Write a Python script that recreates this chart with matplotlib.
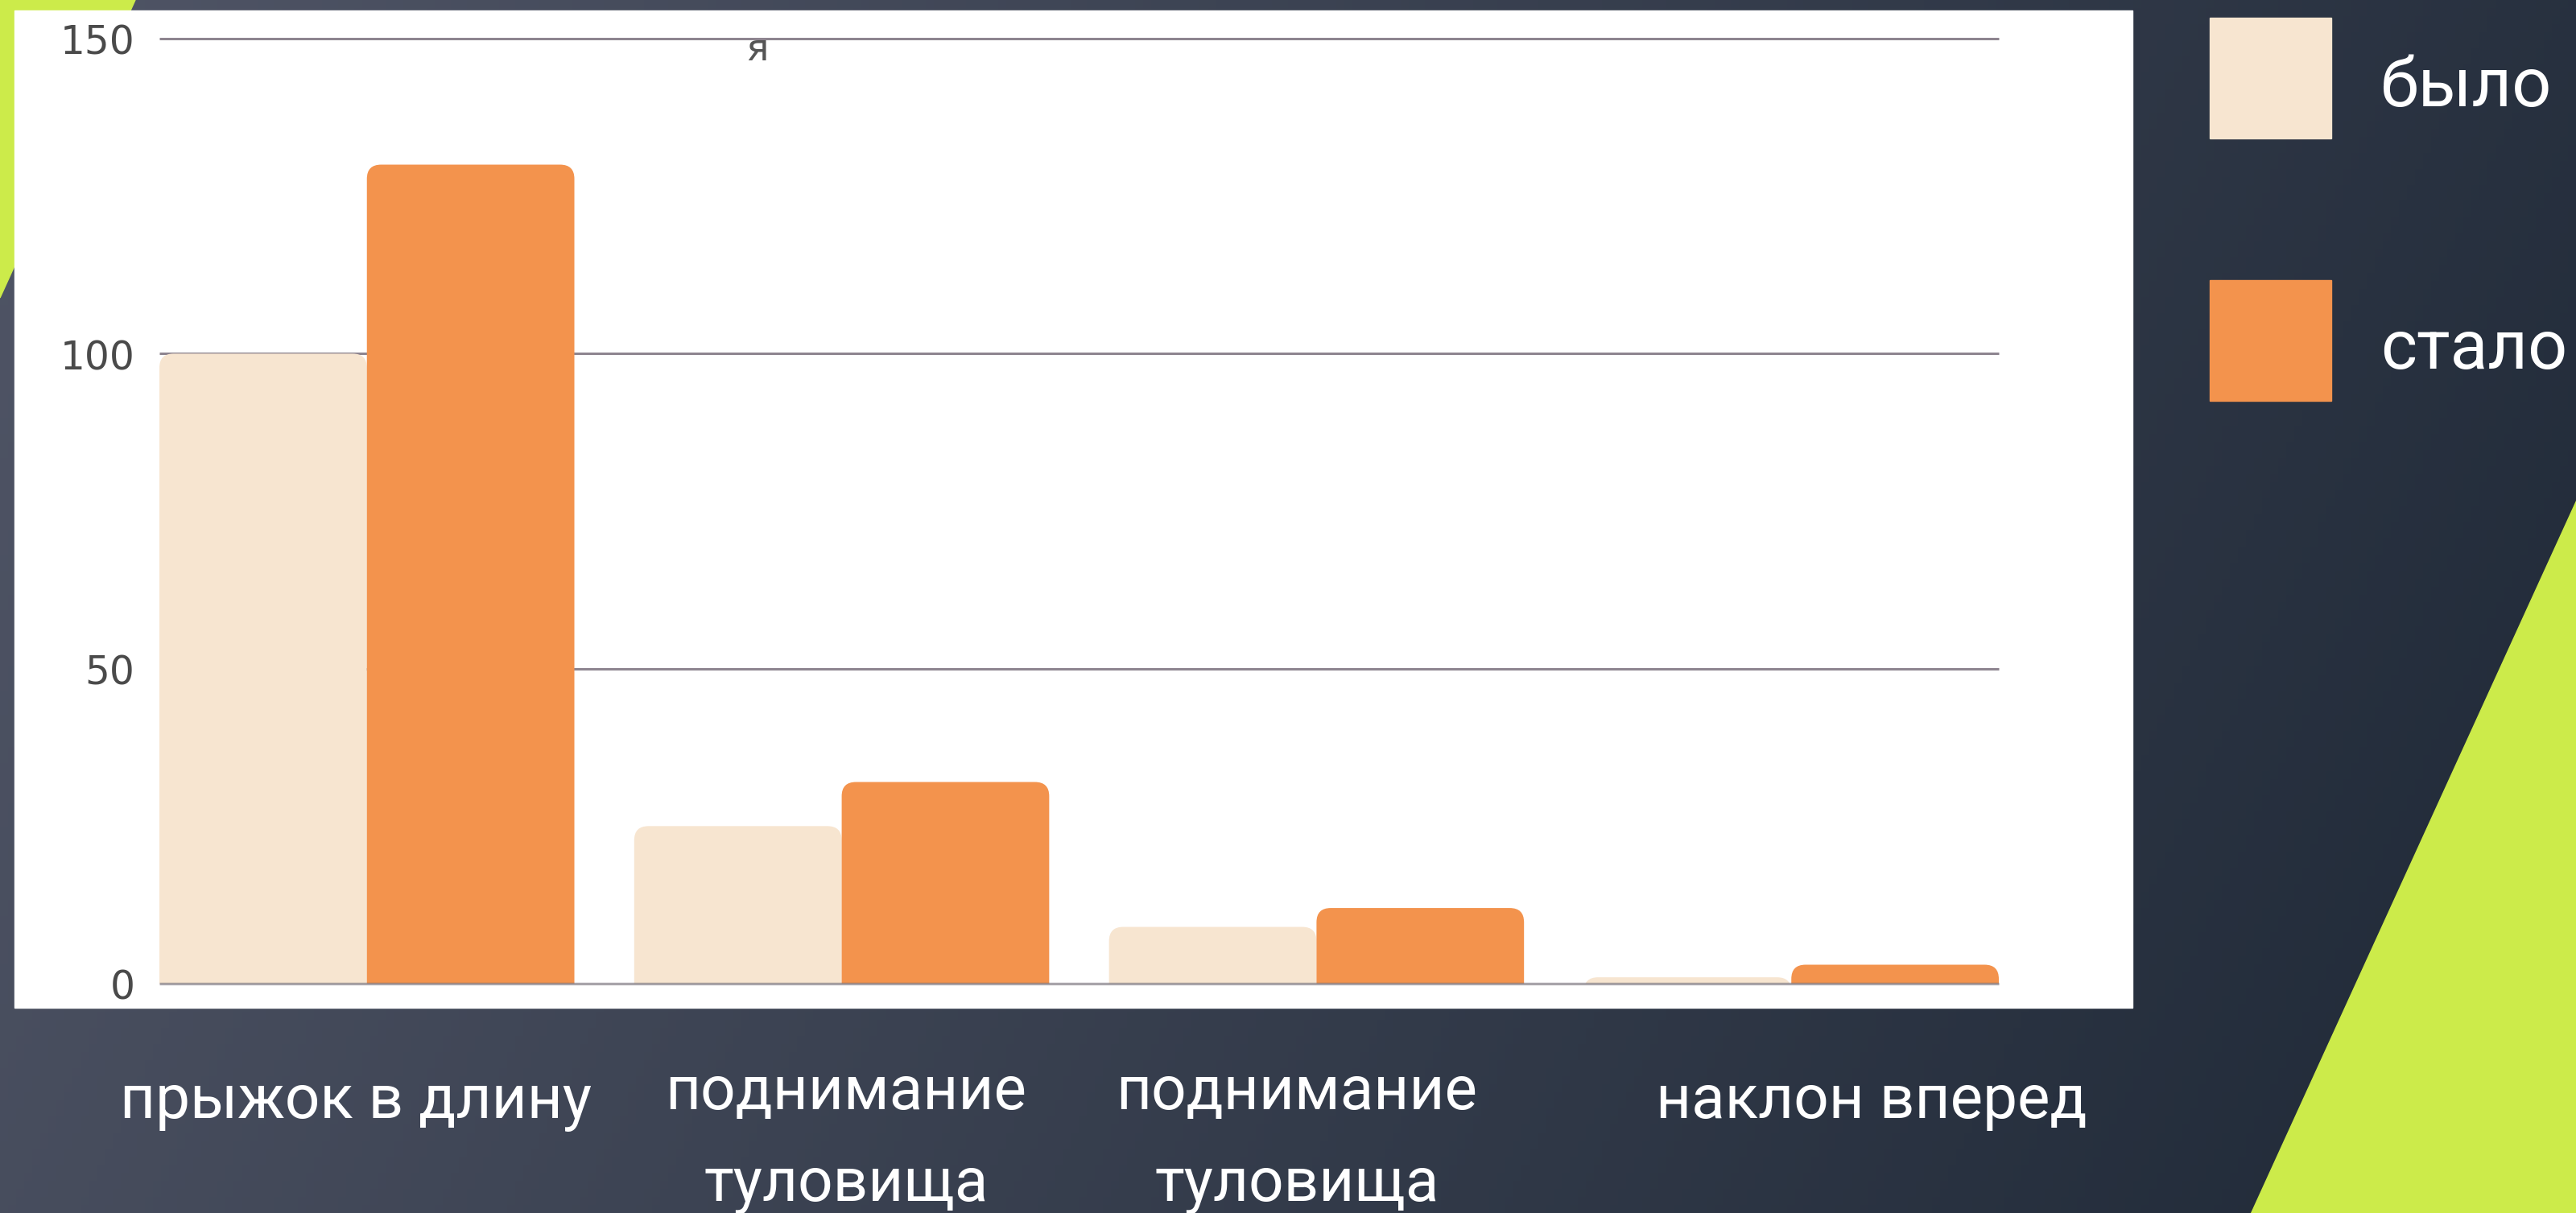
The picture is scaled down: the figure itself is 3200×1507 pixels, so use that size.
import numpy as np
import matplotlib
matplotlib.use("Agg")
import matplotlib.pyplot as plt
from matplotlib.patches import FancyBboxPatch, Rectangle, Polygon

# data
categories = ["прыжок в длину", "поднимание\nтуловища", "поднимание\nтуловища", "наклон вперед"]
before = [100, 25, 9, 1]
after = [130, 32, 12, 3]
series_names = ["было", "стало"]
yticks = [0, 50, 100, 150]

W, H = 3200, 1507
BEIGE = "#f7e5d0"
ORANGE = "#f3934d"
GREEN = "#cceb4a"

fig = plt.figure(figsize=(W / 100, H / 100), dpi=100)

# background layer, in pixel coords (y down)
bg = fig.add_axes([0, 0, 1, 1])
bg.set_xlim(0, W)
bg.set_ylim(H, 0)
bg.axis("off")

xx, yy = np.meshgrid(np.linspace(0, 1, 320), np.linspace(0, 1, 151))
t = np.clip(0.82 * xx + 0.18 * yy, 0, 1)[..., None]
c_left = np.array([0x50, 0x55, 0x66]) / 255
c_right = np.array([0x1f, 0x29, 0x37]) / 255
grad = c_left * (1 - t) + c_right * t
bg.imshow(grad, extent=(0, W, H, 0), aspect="auto", zorder=0)

# green corner shapes
bg.add_patch(Polygon([(0, 0), (168, 0), (0, 370)], closed=True, color=GREEN, zorder=1))
bg.add_patch(Polygon([(W, 622), (W, H), (2796, H)], closed=True, color=GREEN, zorder=1))

# white chart panel
bg.add_patch(Rectangle((18, 13), 2631, 1239, color="white", zorder=2))

# legend on the right
for i, (name, col) in enumerate(zip(series_names, [BEIGE, ORANGE])):
    top = 22 + i * 326
    bg.add_patch(Rectangle((2745, top), 151, 150, color=col, zorder=3))
    bg.text(2957, top + 110, name, fontsize=62, family="Roboto", color="white",
            ha="left", va="baseline", zorder=3)

# category labels below the panel
label_x = [442, 1051, 1611, 2325]
for lx, cat in zip(label_x, categories):
    lines = cat.split("\n")
    base = 1378 if len(lines) > 1 else 1389
    for k, line in enumerate(lines):
        bg.text(lx, base + k * 114, line, fontsize=55, family="Roboto", color="white",
                ha="center", va="baseline", zorder=3)

# stray letter left over from the source image
bg.text(941, 75, "я", fontsize=34, color="#555555", ha="center", va="baseline", zorder=3)

# chart axes
ax = fig.add_axes([198 / W, (H - 1222) / H, (2483 - 198) / W, (1222 - 48) / H])
ax.set_facecolor("none")
ax.set_xlim(-0.437, 3.437)
ax.set_ylim(0, 150)
for s in ax.spines.values():
    s.set_visible(False)

ax.hlines([50, 100, 150], -0.437, 3.437, color="#8e8590", lw=2.2, zorder=1, clip_on=False)

bw = 0.437
r = 0.03
asp = 75
x = np.arange(len(categories))
for vals, col, off in [(before, BEIGE, -bw / 2), (after, ORANGE, bw / 2)]:
    for xi, v in zip(x, vals):
        p = FancyBboxPatch((xi + off - bw / 2, -4), bw, v + 4,
                           boxstyle=f"round,pad=0,rounding_size={r}",
                           mutation_aspect=asp, facecolor=col, edgecolor="none", zorder=2)
        ax.add_patch(p)

ax.hlines([0], -0.437, 3.437, color="#6e6872", lw=2.4, alpha=0.6, zorder=3, clip_on=False)

ax.set_xticks([])
ax.set_yticks(yticks)
ax.set_yticklabels([str(v) for v in yticks], va="top")
ax.tick_params(axis="y", length=0, pad=22, labelsize=35, labelcolor="#4a4a4a")
for lab in ax.get_yticklabels():
    lab.set_y(lab.get_position()[1])
    lab.set_verticalalignment("center")
    lab.set_transform(lab.get_transform() + matplotlib.transforms.ScaledTranslation(0, -6 / 100, fig.dpi_scale_trans))

fig.savefig("out.png", dpi=100)
